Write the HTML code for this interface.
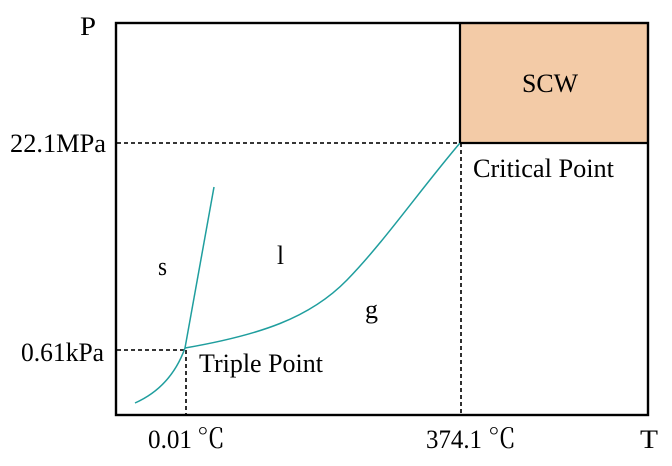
<!DOCTYPE html>
<html>
<head>
<meta charset="utf-8">
<style>
  html, body { margin:0; padding:0; background:#ffffff; }
  svg { display:block; }
  text { font-family: "Liberation Serif", "Times New Roman", serif; fill:#000; }
  .cjk { font-family: "Noto Serif CJK SC", "Noto Sans CJK SC", serif; }
</style>
</head>
<body>
<svg width="672" height="466" viewBox="0 0 672 466" xmlns="http://www.w3.org/2000/svg">
  <rect x="0" y="0" width="672" height="466" fill="#ffffff"/>

  <!-- SCW region -->
  <rect x="460" y="23" width="188" height="120" fill="#f3cba7"/>

  <!-- dashed guide lines -->
  <g stroke="#1a1a1a" stroke-width="1.8" stroke-dasharray="4,3" fill="none">
    <line x1="117" y1="143" x2="460" y2="143"/>
    <line x1="461" y1="143" x2="461" y2="415"/>
    <line x1="117" y1="350" x2="185" y2="350"/>
    <line x1="186" y1="350" x2="186" y2="415"/>
  </g>

  <!-- phase boundary curves -->
  <g stroke="#1f9e9e" stroke-width="1.5" fill="none">
    <path d="M135,403 Q171,387 185,348"/>
    <line x1="185" y1="348" x2="214" y2="187"/>
    <path d="M185,348 C260,335 310,318 347,280 S420,190 460,143"/>
  </g>

  <!-- frame -->
  <rect x="116" y="23" width="532" height="392" fill="none" stroke="#000" stroke-width="2.4"/>
  <line x1="460" y1="23" x2="460" y2="143" stroke="#000" stroke-width="2.2"/>
  <line x1="460" y1="143" x2="648" y2="143" stroke="#000" stroke-width="2.2"/>

  <!-- labels -->
  <g font-family="Liberation Serif, Times New Roman, serif" font-size="26">
  <text x="80" y="35" textLength="16" lengthAdjust="spacingAndGlyphs">P</text>
  <text x="10" y="152" textLength="96" lengthAdjust="spacingAndGlyphs">22.1MPa</text>
  <text x="21" y="361" textLength="83" lengthAdjust="spacingAndGlyphs">0.61kPa</text>
  <text x="522" y="92" textLength="56" lengthAdjust="spacingAndGlyphs">SCW</text>
  <text x="473" y="177" textLength="141" lengthAdjust="spacingAndGlyphs">Critical Point</text>
  <text x="199" y="372" textLength="124" lengthAdjust="spacingAndGlyphs">Triple Point</text>
  <text x="158" y="275" textLength="9" lengthAdjust="spacingAndGlyphs">s</text>
  <text x="277" y="264" textLength="7" lengthAdjust="spacingAndGlyphs">l</text>
  <text x="365" y="318" textLength="13" lengthAdjust="spacingAndGlyphs">g</text>
  <text x="148" y="448" textLength="44" lengthAdjust="spacingAndGlyphs">0.01</text>
  <text x="197" y="448" class="cjk" font-size="27" textLength="28" lengthAdjust="spacingAndGlyphs">℃</text>
  <text x="426" y="448" textLength="56" lengthAdjust="spacingAndGlyphs">374.1</text>
  <text x="488" y="448" class="cjk" font-size="27" textLength="28" lengthAdjust="spacingAndGlyphs">℃</text>
  <text x="640" y="448" textLength="18" lengthAdjust="spacingAndGlyphs">T</text>
  </g>
</svg>
</body>
</html>
